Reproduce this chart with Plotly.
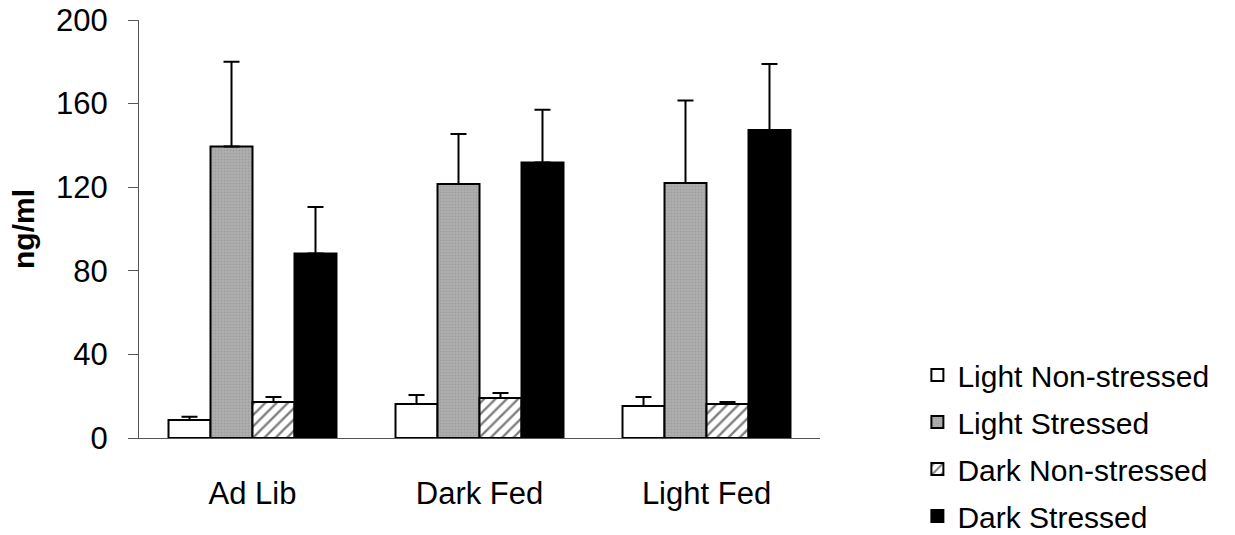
import plotly.graph_objects as go

# Feeding groups on the x axis
groups = ["Ad Lib", "Dark Fed", "Light Fed"]

# Mean hormone concentration (ng/ml) and upper SEM for each condition
light_nonstressed = [8.6, 16.3, 15.3]
light_nonstressed_err = [1.6, 4.3, 4.3]

light_stressed = [139.5, 121.5, 122.0]
light_stressed_err = [40.5, 24.0, 39.5]

dark_nonstressed = [17.2, 19.1, 16.3]
dark_nonstressed_err = [2.4, 2.4, 0.9]

dark_stressed = [88.3, 131.8, 147.4]
dark_stressed_err = [22.2, 25.2, 31.6]

y_ticks = [0, 40, 80, 120, 160, 200]

FONT = "Arial, Liberation Sans, sans-serif"


def err(values):
    return dict(type="data", array=values, arrayminus=[0] * len(values),
                symmetric=False, color="black", thickness=2, width=8)


series = [
    ("Light Non-stressed", light_nonstressed, light_nonstressed_err,
     dict(color="white")),
    ("Light Stressed", light_stressed, light_stressed_err,
     dict(color="#a8a8a8",
          pattern=dict(shape=".", fgcolor="#8c8c8c", bgcolor="#b0b0b0",
                       size=3, solidity=0.4))),
    ("Dark Non-stressed", dark_nonstressed, dark_nonstressed_err,
     dict(color="white",
          pattern=dict(shape="/", fgcolor="black", bgcolor="white",
                       size=8, solidity=0.3))),
    ("Dark Stressed", dark_stressed, dark_stressed_err,
     dict(color="black")),
]

fig = go.Figure()
for name, vals, errs, style in series:
    fig.add_trace(go.Bar(
        x=groups, y=vals, name=name, legendgroup=name,
        error_y=err(errs),
        marker=dict(line=dict(color="black", width=2), **style),
    ))

fig.update_layout(
    width=1235, height=535,
    margin=dict(l=139, r=415, t=20, b=97, autoexpand=False),
    paper_bgcolor="white", plot_bgcolor="white",
    barmode="group", bargap=0.26, bargroupgap=0,
    font=dict(family=FONT, color="black"),
    showlegend=True,
    legend=dict(x=1.143, y=-0.249, xanchor="left", yanchor="bottom",
                font=dict(size=30, family=FONT),
                tracegroupgap=5, itemwidth=30,
                bgcolor="rgba(0,0,0,0)"),
    xaxis=dict(showline=True, linecolor="#555", linewidth=1,
               ticks="", tickfont=dict(size=31), showgrid=False,
               zeroline=False, automargin=False, ticklabelstandoff=28),
    yaxis=dict(range=[0, 200], tickvals=y_ticks, showline=True,
               linecolor="#555", linewidth=1, ticks="outside", ticklen=10,
               tickcolor="#555", tickfont=dict(size=31), showgrid=False,
               zeroline=False, automargin=False, ticklabelstandoff=14,
               title=dict(text="<b>ng/ml</b>", font=dict(size=30),
                          standoff=12)),
)

fig.write_html("out.html")
